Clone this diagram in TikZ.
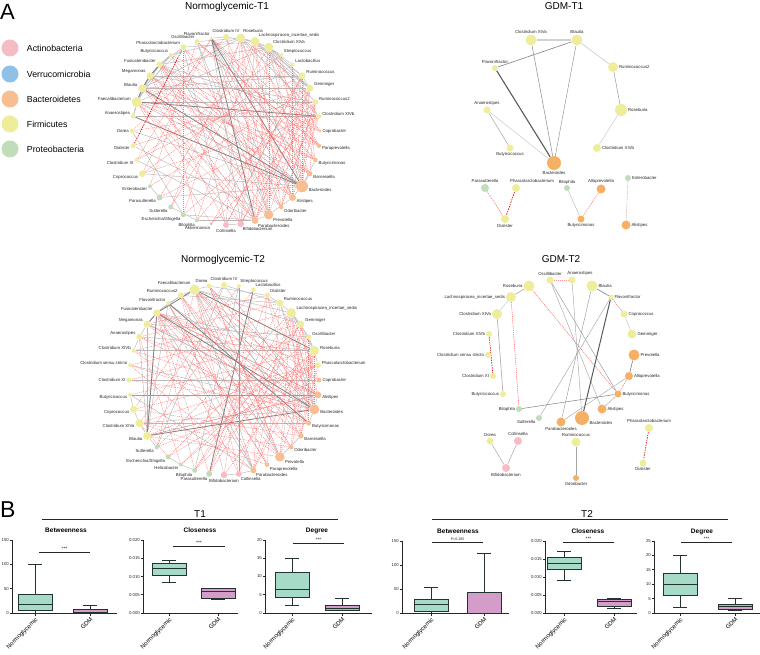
\documentclass[tikz,border=0pt]{standalone}
\usepackage{fontspec}
\setmainfont{Liberation Sans}
\usetikzlibrary{backgrounds}
\definecolor{firmi}{RGB}{237,237,155}
\definecolor{bactero}{RGB}{248,190,145}
\definecolor{bacterog}{RGB}{245,176,100}
\definecolor{actino}{RGB}{245,188,198}
\definecolor{verruco}{RGB}{142,192,232}
\definecolor{proteo}{RGB}{190,221,184}
\definecolor{mint}{RGB}{166,219,199}
\definecolor{mauve}{RGB}{212,156,200}
\definecolor{boxrand}{RGB}{35,52,48}

% Box: Mitte, min, q1, median, q3, max, Farbe
\newcommand{\kasten}[7]{%
  \draw[whisker] (#1,#2) -- (#1,#6) (#1-7,#2) -- (#1+7,#2) (#1-7,#6) -- (#1+7,#6);
  \draw[boxlinie, fill=#7] (#1-17,#3) rectangle (#1+17,#5);
  \draw[boxlinie] (#1-17,#4) -- (#1+17,#4);
}
% Achsen: Laenge, Maximum, Ticks
\newcommand{\achsen}[3]{%
  \draw[achse] (0,#2) -- (0,0) -- (#1,0);
  \foreach \v/\t in {#3} \draw[achse] (0,\v) -- ++(-2,0) node[ticklab, left]{\t};
}
\newcommand{\xlab}[2]{%
  \draw[achse] (#1,613) -- (#1,615.5) (#2,613) -- (#2,615.5);
  \node[xbeschr] at (#1,616) {Normoglycemic};
  \node[xbeschr] at (#2,616) {GDM};
}

\begin{document}
\begin{tikzpicture}[x=1pt, y=-1pt,
  taxon/.style={circle, inner sep=0pt, minimum size=#1},
  lab/.style={font=\fontsize{4.3}{5}\selectfont, inner sep=0.6pt, text=black!85},
  legtxt/.style={font=\fontsize{8.8}{10}\selectfont, inner sep=0pt, xshift=8},
  kante/.style={gray!55, line width=0.45pt},
  kanted/.style={black!50, line width=0.8pt},
  negkante/.style={red!55, line width=0.35pt, dash pattern=on 1.2pt off 0.8pt},
  negkanted/.style={red!85!black, line width=0.6pt, dash pattern=on 1.5pt off 1pt},
  titel/.style={font=\fontsize{10}{12}\selectfont, anchor=base},
  ptitel/.style={font=\bfseries\fontsize{6.5}{8}\selectfont, anchor=base},
  achse/.style={black!85, line width=0.7pt},
  ticklab/.style={font=\fontsize{4.3}{5}\selectfont, inner sep=0.8pt},
  xbeschr/.style={rotate=45, anchor=north east, font=\fontsize{6}{7}\selectfont, inner sep=0.5pt},
  whisker/.style={boxrand, line width=1pt},
  boxlinie/.style={draw=boxrand, line width=1pt},
  sig/.style={black!85, line width=0.6pt},
  stern/.style={font=\fontsize{5}{6}\selectfont, inner sep=0.8pt},
]
\useasboundingbox (0,0) rectangle (760,655);

\node[font=\fontsize{22}{22}\selectfont, anchor=base west, inner sep=0] (labelA) at (0,20) {A};
\node[font=\fontsize{23}{23}\selectfont, anchor=base west, inner sep=0] (labelB) at (0,517) {B};

% Legende
\foreach \yy/\col/\txt in {48/actino/Actinobacteria, 74/verruco/Verrucomicrobia, 99/bactero/Bacteroidetes, 124/firmi/Firmicutes, 149/proteo/Proteobacteria}
  \node[taxon=17, fill=\col, label={[legtxt]right:\txt}] (leg-\txt) at (10,\yy) {};

% Normoglycemic-T1
\node[titel] (titelA) at (227,9.5) {Normoglycemic-T1};
\coordinate (mA) at (226,131);
\foreach \i/\sz/\ph/\txt [evaluate=\i as \ang using int(9*(\i-1)-90), evaluate=\i as \lang using {atan2(sin(90-9*(\i-1)), 2.5*cos(90-9*(\i-1)))}] in {
  1/6/firmi/Clostridium IV, 2/9/firmi/Roseburia, 3/9/firmi/Lachnospiracea\_incertae\_sedis,
  4/9/firmi/Clostridium XIVa, 5/4/firmi/Streptococcus, 6/4/firmi/Lactobacillus,
  7/7/firmi/Ruminococcus, 8/7/firmi/Gemmiger, 9/5.5/firmi/Ruminococcus2,
  10/5/firmi/Clostridium XIVb, 11/3/bactero/Coprobacter, 12/4.5/bactero/Paraprevotella,
  13/4.5/bactero/Butyricimonas, 14/5.5/bactero/Barnesiella, 15/12/bactero/Bacteroides,
  16/7/bactero/Alistipes, 17/4.5/bactero/Odoribacter, 18/9.5/bactero/Prevotella,
  19/7/bactero/Parabacteroides, 20/6.5/actino/Bifidobacterium, 21/6/actino/Collinsella,
  22/2.5/verruco/Akkermansia, 23/4/proteo/Bilophila, 24/5/proteo/{Escherichia/Shigella},
  25/5/proteo/Sutterella, 26/6/proteo/Parasutterella, 27/4/proteo/Enterobacter,
  28/6.5/firmi/Coprococcus, 29/4/firmi/Clostridium XI, 30/5/firmi/Dialister,
  31/4.5/firmi/Dorea, 32/4.5/firmi/Anaerostipes, 33/10/firmi/Faecalibacterium,
  34/8/firmi/Blautia, 35/7/firmi/Megamonas, 36/6/firmi/Fusicatenibacter,
  37/4/firmi/Butyricicoccus, 38/6/firmi/Phascolarctobacterium, 39/5/firmi/Oscillibacter,
  40/3/firmi/Flavonifractor}
  \node[taxon=\sz, fill=\ph, label={[lab]\lang:\txt}] (a\i) at ([shift={(\ang:94)}]mA) {};

\begin{pgfonlayer}{background}
\foreach \p/\q in {33/34, 34/35, 35/36, 33/35, 33/36, 32/33, 32/34, 36/37, 34/36, 35/37, 33/37, 34/38, 36/38,
  2/3, 3/4, 2/4, 4/7, 3/7, 2/8, 4/8, 3/9, 2/10, 4/10, 7/8, 1/3, 4/5, 4/6, 3/8, 34/8, 33/9, 32/10, 34/7,
  35/7, 36/4, 37/2, 38/3, 33/4, 34/2, 15/33, 15/35, 15/36, 15/4, 15/2, 15/31, 40/18, 40/16, 40/17, 40/20,
  40/14, 40/1, 26/15, 23/19, 24/19, 25/23, 27/26, 19/18, 18/16, 16/15, 14/15, 13/15, 20/21, 28/15, 29/19,
  39/19, 39/18, 39/2, 31/24, 30/18, 37/19, 38/21, 35/9, 36/10}
  \draw[kante] (a\p) -- (a\q);
\foreach \p/\q in {15/34, 15/32, 15/40, 33/34, 34/35, 40/19, 33/10, 35/36}
  \draw[kanted] (a\p) -- (a\q);
\foreach \p/\q in {19/33, 19/34, 19/35, 19/2, 19/4, 18/2, 18/3, 18/4, 18/36, 18/33, 17/36, 17/3, 17/7,
  16/35, 16/34, 16/2, 16/8, 14/33, 14/38, 14/3, 13/34, 13/36, 13/4, 12/36, 12/2, 12/39, 11/37, 11/3,
  15/7, 15/8, 15/9, 15/5, 15/6, 20/4, 20/3, 20/8, 21/2, 21/7, 20/33, 22/7, 23/8, 23/3, 24/9, 24/2, 25/2,
  25/4, 26/3, 26/10, 27/39, 27/8, 28/10, 29/7, 31/9, 28/6, 29/5, 30/8, 28/40, 29/40, 31/1, 37/16, 36/14,
  35/13, 38/17, 39/12, 39/13, 40/11, 40/12, 40/13, 5/18, 6/16, 7/21, 8/19, 9/20, 10/22, 1/16, 1/18,
  10/19, 9/17, 12/4, 13/7, 14/9, 16/10, 17/9, 18/8, 19/7, 11/34, 12/33, 14/35, 17/34, 20/36, 21/35,
  22/33, 23/36, 24/38}
  \draw[negkante] (a\p) -- (a\q);
\draw[negkanted] (a30) -- (a38);
\end{pgfonlayer}

% Normoglycemic-T2
\node[titel] (titelB) at (223,262) {Normoglycemic-T2};
\coordinate (mB) at (224,380);
\foreach \i/\sz/\ph/\txt [evaluate=\i as \ang using int(9*(\i-1)-90), evaluate=\i as \lang using {atan2(sin(90-9*(\i-1)), 2.5*cos(90-9*(\i-1)))}] in {
  1/6/firmi/Clostridium IV, 2/4/firmi/Streptococcus, 3/4.5/firmi/Lactobacillus, 4/5.5/firmi/Dialister,
  5/7/firmi/Ruminococcus, 6/9.5/firmi/Lachnospiracea\_incertae\_sedis, 7/7/firmi/Gemmiger,
  8/5/firmi/Oscillibacter, 9/9.5/firmi/Roseburia, 10/6/firmi/Phascolarctobacterium,
  11/5/bactero/Coprobacter, 12/7/bactero/Alistipes, 13/10/bactero/Bacteroides,
  14/5/bactero/Butyricimonas, 15/5.5/bactero/Barnesiella, 16/4.5/bactero/Odoribacter,
  17/9.5/bactero/Prevotella, 18/4.5/bactero/Paraprevotella, 19/6/bactero/Parabacteroides,
  20/6/actino/Collinsella, 21/6.5/actino/Bifidobacterium, 22/6/proteo/Parasutterella,
  23/5/proteo/Bilophila, 24/4/proteo/Helicobacter, 25/5/proteo/{Escherichia/Shigella},
  26/4.5/proteo/Sutterella, 27/8/firmi/Blautia, 28/8/firmi/Clostridium XIVa,
  29/7/firmi/Coprococcus, 30/4/firmi/Butyricicoccus, 31/5/firmi/Clostridium XI,
  32/4/firmi/Clostridium sensu stricto, 33/4/firmi/Clostridium XIVb, 34/6/firmi/Anaerostipes,
  35/7/firmi/Megamonas, 36/7/firmi/Fusicatenibacter, 37/4/firmi/Flavonifractor,
  38/6/firmi/Ruminococcus2, 39/10/firmi/Faecalibacterium, 40/5/firmi/Dorea}
  \node[taxon=\sz, fill=\ph, label={[lab]\lang:\txt}] (b\i) at ([shift={(\ang:95)}]mB) {};

\begin{pgfonlayer}{background}
\foreach \p/\q in {36/37, 36/35, 35/34, 34/33, 36/38, 37/39, 38/39, 39/40, 36/27, 35/27, 37/27, 27/28,
  28/29, 29/30, 34/27, 13/39, 13/37, 13/28, 13/35, 13/1, 13/5, 13/6, 6/7, 6/9, 5/6, 7/9, 4/5, 6/8, 9/10,
  8/9, 36/9, 39/6, 39/7, 35/8, 34/9, 33/9, 27/12, 28/14, 37/19, 36/19, 39/17, 1/26, 2/23, 40/15, 12/13,
  13/14, 17/15, 19/20, 21/20, 23/24, 24/25, 26/27, 31/11, 38/5, 40/4, 1/5, 36/12, 35/13, 39/19, 38/17,
  30/19, 32/13}
  \draw[kante] (b\p) -- (b\q);
\foreach \p/\q in {13/36, 36/39, 27/13, 3/22, 35/36, 39/9, 27/36, 37/14}
  \draw[kanted] (b\p) -- (b\q);
\foreach \p/\q in {12/36, 12/39, 12/27, 12/35, 14/36, 14/39, 14/6, 15/36, 15/9, 15/6, 16/39, 16/7, 17/36,
  17/6, 17/9, 18/39, 18/28, 19/6, 19/9, 19/4, 20/6, 20/36, 21/9, 22/5, 22/7, 23/6, 23/36, 24/9, 25/7,
  26/6, 13/7, 13/9, 13/4, 13/8, 11/36, 11/39, 10/36, 10/27, 10/28, 10/29, 9/30, 8/31, 7/32, 6/33, 5/34,
  4/35, 3/27, 2/28, 1/29, 40/12, 40/13, 40/17, 38/15, 38/19, 37/18, 35/16, 34/14, 33/17, 32/19, 31/13,
  30/12, 29/15, 28/16, 27/17, 26/11, 25/10, 24/8, 23/7, 22/4, 21/3, 20/2, 12/5, 14/8, 15/10, 16/9, 17/7,
  18/5, 19/8, 11/6, 12/34, 13/33, 14/32, 16/38, 17/40, 18/37, 20/39, 21/38, 22/36, 24/34, 25/28, 26/39,
  23/9, 12/7, 15/4}
  \draw[negkante] (b\p) -- (b\q);
\end{pgfonlayer}

% GDM-T1
\node[titel] (titelC) at (564,9.5) {GDM-T1};
\node[taxon=11, fill=firmi, label={[lab]above:Clostridium XIVa}] (cXIVa) at (531,40) {};
\node[taxon=11, fill=firmi, label={[lab]above:Blautia}] (cBlautia) at (577,40) {};
\node[taxon=6, fill=firmi, label={[lab]above:Flavonifractor}] (cFlavo) at (495,68) {};
\node[taxon=10, fill=firmi, label={[lab]right:Ruminococcus2}] (cRumino) at (613,67) {};
\node[taxon=12, fill=firmi, label={[lab]right:Roseburia}] (cRoseb) at (621,110) {};
\node[taxon=8, fill=firmi, label={[lab]right:Clostridium XIVb}] (cXIVb) at (597,148) {};
\node[taxon=7, fill=firmi, label={[lab]above:Anaerostipes}] (cAnaero) at (487,110) {};
\node[taxon=7, fill=firmi, label={[lab]below:Butyricicoccus}] (cButyrico) at (510,148) {};
\node[taxon=14, fill=bacterog, label={[lab]below:Bacteroides}] (cBactero) at (554,163) {};
\node[taxon=8, fill=proteo, label={[lab]above:Parasutterella}] (cParasut) at (485,188) {};
\node[taxon=8, fill=firmi, label={[lab, xshift=16]above:Phascolarctobacterium}] (cPhasco) at (516,188) {};
\node[taxon=8, fill=firmi, label={[lab]below:Dialister}] (cDialist) at (505,219) {};
\node[taxon=6, fill=proteo, label={[lab]above:Bilophila}] (cBiloph) at (567,188) {};
\node[taxon=9, fill=bacterog, label={[lab]above:Alloprevotella}] (cAllo) at (601,189) {};
\node[taxon=7, fill=bacterog, label={[lab]below:Butyricimonas}] (cButyrim) at (581,219) {};
\node[taxon=6, fill=proteo, label={[lab]right:Enterobacter}] (cEntero) at (628,178) {};
\node[taxon=9, fill=bacterog, label={[lab]right:Alistipes}] (cAlist) at (626,225) {};

\begin{pgfonlayer}{background}
\draw[kante, gray!35, line width=1.3pt] (cXIVa) -- (cBlautia);
\draw[kanted, line width=0.6pt] (cBlautia) -- (cFlavo);
\draw[kanted, black!65, line width=1.1pt] (cFlavo) -- (cBactero);
\draw[kante, gray!80, line width=0.6pt] (cXIVa) -- (cBactero);
\draw[kante, gray!80, line width=0.5pt] (cBlautia) -- (cBactero);
\draw[kante] (cBlautia) -- (cRumino);
\draw[kante, gray!80, line width=0.5pt] (cRumino) -- (cRoseb);
\draw[kante, gray!45] (cRoseb) -- (cXIVb);
\draw[kante, gray!75] (cAnaero) -- (cButyrico);
\draw[kante, gray!45] (cAnaero) -- (cBactero);
\draw[kante] (cBiloph) -- (cButyrim);
\draw[negkante, red!75] (cParasut) -- (cDialist);
\draw[negkanted] (cPhasco) -- (cDialist);
\draw[negkante, red!70] (cAllo) -- (cButyrim);
\draw[negkante, red!50] (cEntero) -- (cAlist);
\end{pgfonlayer}

% GDM-T2
\node[titel] (titelD) at (561,262) {GDM-T2};
\node[taxon=7, fill=firmi, label={[lab]above:Oscillibacter}] (dOscill) at (550,280) {};
\node[taxon=7, fill=firmi, label={[lab, xshift=8]above:Anaerostipes}] (dAnaero) at (572,280) {};
\node[taxon=11, fill=firmi, label={[lab]left:Roseburia}] (dRoseb) at (529,286) {};
\node[taxon=11, fill=firmi, label={[lab]right:Blautia}] (dBlautia) at (592,286) {};
\node[taxon=10, fill=firmi, label={[lab]left:Lachnospiracea\_incertae\_sedis}] (dLachno) at (511,297) {};
\node[taxon=5, fill=firmi, label={[lab]right:Flavonifractor}] (dFlavo) at (611,297) {};
\node[taxon=10, fill=firmi, label={[lab]left:Clostridium XIVa}] (dXIVa) at (497,314) {};
\node[taxon=7, fill=firmi, label={[lab]right:Coprococcus}] (dCopro) at (624,314) {};
\node[taxon=6, fill=firmi, label={[lab]left:Clostridium XIVb}] (dXIVb) at (489,334) {};
\node[taxon=9, fill=firmi, label={[lab]right:Gemmiger}] (dGemm) at (632,334) {};
\node[taxon=6, fill=firmi, label={[lab]left:Clostridium sensu stricto}] (dCss) at (488,355) {};
\node[taxon=11, fill=bacterog, label={[lab]right:Prevotella}] (dPrev) at (634,355) {};
\node[taxon=6, fill=firmi, label={[lab]left:Clostridium XI}] (dXI) at (493,376) {};
\node[taxon=8, fill=bacterog, label={[lab]right:Alloprevotella}] (dAllo) at (629,376) {};
\node[taxon=6, fill=firmi, label={[lab]left:Butyricicoccus}] (dButyrico) at (503,394) {};
\node[taxon=7, fill=bacterog, label={[lab]right:Butyricimonas}] (dButyrim) at (618,394) {};
\node[taxon=6, fill=proteo, label={[lab]left:Bilophila}] (dBiloph) at (519,409) {};
\node[taxon=9, fill=bacterog, label={[lab]right:Alistipes}] (dAlist) at (602,409) {};
\node[taxon=6, fill=proteo, label={[lab]-160:Sutterella}] (dSutter) at (539,418) {};
\node[taxon=9, fill=bacterog, label={[lab]below:Parabacteroides}] (dParab) at (561,422) {};
\node[taxon=14, fill=bacterog, label={[lab]-20:Bacteroides}] (dBactero) at (582,418) {};
\node[taxon=8, fill=firmi, label={[lab]above:Phascolarctobacterium}] (dPhasco) at (649,428) {};
\node[taxon=7, fill=firmi, label={[lab]above:Dorea}] (dDorea) at (490,441) {};
\node[taxon=8, fill=actino, label={[lab]above:Collinsella}] (dCollin) at (518,441) {};
\node[taxon=9, fill=firmi, label={[lab]above:Ruminococcus}] (dRumino) at (576,442) {};
\node[taxon=8, fill=actino, label={[lab]below:Bifidobacterium}] (dBifido) at (506,468) {};
\node[taxon=6, fill=bacterog, label={[lab]below:Odoribacter}] (dOdori) at (576,478) {};
\node[taxon=7, fill=firmi, label={[lab]below:Dialister}] (dDialist) at (643,463) {};

\begin{pgfonlayer}{background}
\draw[kante, gray!80, line width=0.5pt] (dRoseb) -- (dLachno);
\draw[kante, gray!45] (dLachno) -- (dXIVa);
\draw[negkante, red!75] (dRoseb) -- (dButyrim);
\draw[negkante, red!75] (dLachno) -- (dBiloph);
\draw[kante, gray!80, line width=0.5pt] (dXIVa) -- (dButyrico);
\draw[negkanted] (dXIVb) -- (dXI);
\draw[negkante, red!40] (dOscill) -- (dAnaero);
\draw[kante, gray!80] (dOscill) -- (dButyrim);
\draw[kante, gray!70] (dOscill) -- (dAlist);
\draw[kante, gray!70] (dAnaero) -- (dBactero);
\draw[kanted, line width=0.6pt] (dBlautia) -- (dFlavo);
\draw[kante, gray!80] (dBlautia) -- (dParab);
\draw[kanted, black!65, line width=1pt] (dFlavo) -- (dBactero);
\draw[kante, gray!70] (dFlavo) -- (dSutter);
\draw[negkante, red!75] (dFlavo) -- (dCopro);
\draw[kante, gray!45] (dCopro) -- (dGemm);
\draw[kanted, line width=0.6pt] (dPrev) -- (dAllo);
\draw[negkante, red!70] (dAllo) -- (dButyrim);
\draw[kante, gray!70] (dAllo) -- (dParab);
\draw[kanted, line width=0.5pt] (dBiloph) -- (dButyrim);
\draw[kante, gray!70] (dButyrim) -- (dAlist);
\draw[kante, gray!70, line width=1pt] (dRumino) -- (dOdori);
\draw[kante, gray!75] (dDorea) -- (dBifido);
\draw[kante, gray!75] (dCollin) -- (dBifido);
\draw[negkanted] (dPhasco) -- (dDialist);
\end{pgfonlayer}

% Boxplots T1
\node[titel] (tT1) at (200,517) {T1};
\draw[sig] (42,519) -- (338,519);

\node[ptitel] (pb1) at (66,532) {Betweenness};
\begin{scope}[shift={(12,613)}, yscale={-73/150}]
\achsen{105}{150}{0/0,50/50,100/100,150/150}
\kasten{23}{0}{5}{18}{38}{100}{mint}
\kasten{78}{0}{0}{2}{8}{15}{mauve}
\end{scope}
\xlab{35}{90}
\draw[sig] (39,552) -- (90,552) node[midway, above, stern] {***};

\node[ptitel] (pc1) at (200,532) {Closeness};
\begin{scope}[shift={(143,613)}, yscale={-73/0.02}]
\achsen{95}{0.02}{0/0.000,0.005/0.005,0.01/0.010,0.015/0.015,0.02/0.020}
\kasten{26}{0.0083}{0.0103}{0.0123}{0.0135}{0.0145}{mint}
\kasten{75}{0.0038}{0.0040}{0.0060}{0.0066}{0.0068}{mauve}
\end{scope}
\xlab{169}{218}
\draw[sig] (173,546) -- (225,546) node[midway, above, stern] {***};

\node[ptitel] (pd1) at (317,532) {Degree};
\begin{scope}[shift={(265,613)}, yscale={-73/20}]
\achsen{107}{20}{0/0,5/5,10/10,15/15,20/20}
\kasten{27}{2}{4.2}{6.5}{11}{15}{mint}
\kasten{77}{0.7}{0.8}{1.3}{2.1}{4}{mauve}
\end{scope}
\xlab{292}{342}
\draw[sig] (293,543) -- (344,543) node[midway, above, stern] {***};

% Boxplots T2
\node[titel] (tT2) at (587,517) {T2};
\draw[sig] (432,519) -- (728,519);

\node[ptitel] (pb2) at (458,533) {Betweenness};
\begin{scope}[shift={(402,613)}, yscale={-72/150}]
\achsen{107}{150}{0/0,50/50,100/100,150/150}
\kasten{29}{0}{3}{17}{28}{53}{mint}
\kasten{82}{0}{0}{0}{43}{123}{mauve}
\end{scope}
\xlab{431}{484}
\draw[sig] (432,542) -- (483,542) node[midway, above, font=\fontsize{3.6}{4}\selectfont, inner sep=0.8pt] {P=0.285};

\node[ptitel] (pc2) at (588,533) {Closeness};
\begin{scope}[shift={(545,613)}, yscale={-72/0.02}]
\achsen{92}{0.02}{0/0.000,0.005/0.005,0.01/0.010,0.015/0.015,0.02/0.020}
\kasten{19}{0.009}{0.012}{0.0137}{0.0153}{0.017}{mint}
\kasten{69}{0.0013}{0.0018}{0.0032}{0.0037}{0.0040}{mauve}
\end{scope}
\xlab{564}{614}
\draw[sig] (563,542) -- (614,542) node[midway, above, stern] {***};

\node[ptitel] (pd2) at (702,533) {Degree};
\begin{scope}[shift={(654,613)}, yscale={-72/25}]
\achsen{106}{25}{0/0,5/5,10/10,15/15,20/20,25/25}
\kasten{26}{2}{6}{10}{13.8}{20}{mint}
\kasten{81}{1}{1.15}{2.2}{3.1}{5}{mauve}
\end{scope}
\xlab{680}{735}
\draw[sig] (681,542) -- (732,542) node[midway, above, stern] {***};

\end{tikzpicture}
\end{document}
